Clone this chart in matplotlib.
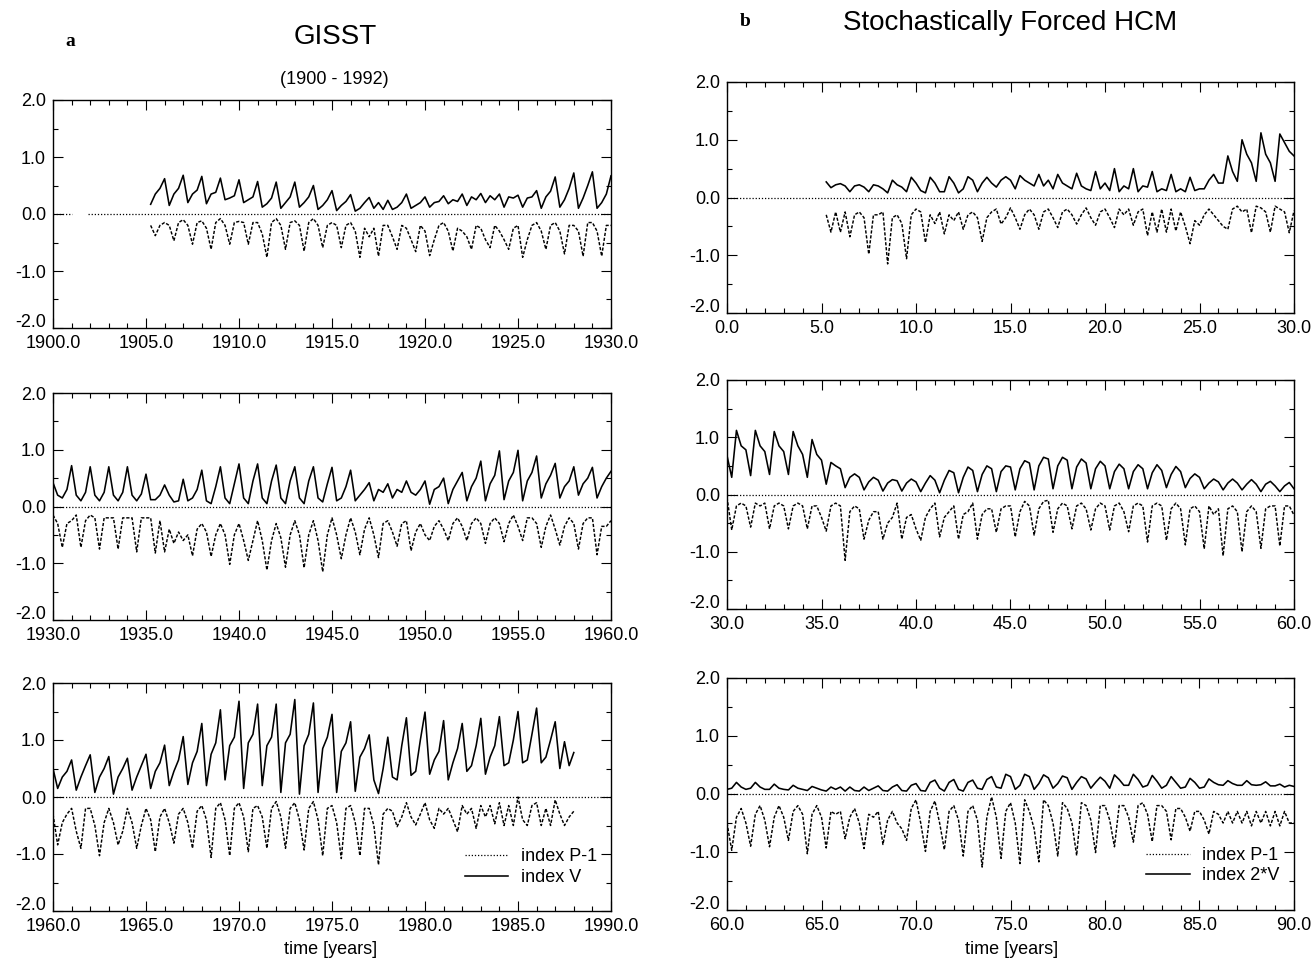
import numpy as np
import matplotlib
matplotlib.use("Agg")
import matplotlib.pyplot as plt
from matplotlib.ticker import MultipleLocator, FuncFormatter
from matplotlib.lines import Line2D

plt.rcParams['font.family'] = ['Liberation Sans', 'DejaVu Sans']
plt.rcParams['axes.unicode_minus'] = False

# ---------------- data (quarterly samples, step 0.25 yr) ----------------
step = 0.25

# GISST 1900-1930
gisst1_start = 1905.25
gisst1_v = [0.17, 0.35, 0.45,
            0.62, 0.15, 0.35, 0.45,
            0.68, 0.20, 0.35, 0.42,
            0.66, 0.18, 0.35, 0.38,
            0.63, 0.25, 0.28, 0.32,
            0.60, 0.20, 0.25, 0.30,
            0.57, 0.12, 0.18, 0.28,
            0.56, 0.10, 0.20, 0.30,
            0.56, 0.12, 0.20, 0.30,
            0.50, 0.08, 0.15, 0.25,
            0.41, 0.06, 0.15, 0.22,
            0.34, 0.05, 0.10, 0.20,
            0.29, 0.10, 0.20, 0.08,
            0.24, 0.08, 0.12, 0.20,
            0.35, 0.10, 0.15, 0.20,
            0.30, 0.12, 0.20, 0.22,
            0.32, 0.18, 0.25, 0.22,
            0.35, 0.15, 0.30, 0.25,
            0.36, 0.20, 0.32, 0.25,
            0.35, 0.12, 0.30, 0.28,
            0.33, 0.12, 0.28, 0.30,
            0.41, 0.10, 0.30, 0.40,
            0.65, 0.12, 0.25, 0.45,
            0.72, 0.10, 0.28, 0.50,
            0.74, 0.10, 0.20, 0.35,
            0.67]
gisst1_p = [-0.20, -0.38, -0.20,
            -0.15, -0.20, -0.47, -0.15,
            -0.10, -0.20, -0.53, -0.15,
            -0.12, -0.25, -0.62, -0.15,
            -0.08, -0.20, -0.53, -0.15,
            -0.13, -0.15, -0.53, -0.15,
            -0.15, -0.35, -0.76, -0.15,
            -0.08, -0.20, -0.62, -0.15,
            -0.12, -0.20, -0.65, -0.15,
            -0.08, -0.20, -0.59, -0.20,
            -0.15, -0.20, -0.59, -0.20,
            -0.15, -0.30, -0.76, -0.25,
            -0.40, -0.25, -0.74, -0.20,
            -0.20, -0.40, -0.62, -0.20,
            -0.25, -0.45, -0.66, -0.20,
            -0.30, -0.73, -0.45, -0.20,
            -0.15, -0.30, -0.65, -0.25,
            -0.30, -0.40, -0.62, -0.20,
            -0.25, -0.45, -0.59, -0.20,
            -0.30, -0.45, -0.62, -0.25,
            -0.20, -0.76, -0.45, -0.20,
            -0.15, -0.30, -0.62, -0.20,
            -0.15, -0.30, -0.70, -0.20,
            -0.20, -0.30, -0.74, -0.15,
            -0.15, -0.30, -0.74, -0.20,
            -0.20]

# GISST 1930-1960
gisst2_start = 1930.0
gisst2_v = [0.42, 0.20, 0.15, 0.30,
            0.72, 0.20, 0.10, 0.25,
            0.70, 0.20, 0.10, 0.25,
            0.70, 0.20, 0.10, 0.25,
            0.70, 0.20, 0.10, 0.22,
            0.57, 0.12, 0.12, 0.20,
            0.38, 0.20, 0.08, 0.10,
            0.48, 0.10, 0.15, 0.30,
            0.64, 0.10, 0.05, 0.35,
            0.70, 0.15, 0.05, 0.40,
            0.75, 0.15, 0.05, 0.45,
            0.75, 0.15, 0.05, 0.45,
            0.73, 0.15, 0.05, 0.45,
            0.70, 0.15, 0.05, 0.45,
            0.70, 0.15, 0.08, 0.40,
            0.69, 0.10, 0.15, 0.35,
            0.64, 0.10, 0.20, 0.30,
            0.42, 0.10, 0.30, 0.25,
            0.40, 0.15, 0.30, 0.25,
            0.45, 0.25, 0.20, 0.30,
            0.45, 0.04, 0.30, 0.35,
            0.50, 0.05, 0.30, 0.45,
            0.60, 0.10, 0.35, 0.50,
            0.80, 0.10, 0.40, 0.55,
            0.98, 0.12, 0.45, 0.60,
            0.99, 0.10, 0.45, 0.60,
            0.89, 0.15, 0.40, 0.55,
            0.76, 0.15, 0.35, 0.45,
            0.70, 0.20, 0.40, 0.50,
            0.69, 0.15, 0.35, 0.50,
            0.62]
gisst2_p = [-0.15, -0.30, -0.72, -0.30,
            -0.25, -0.15, -0.72, -0.25,
            -0.15, -0.20, -0.75, -0.20,
            -0.20, -0.20, -0.75, -0.20,
            -0.20, -0.20, -0.80, -0.20,
            -0.20, -0.20, -0.82, -0.25,
            -0.80, -0.40, -0.65, -0.45,
            -0.60, -0.50, -0.87, -0.40,
            -0.30, -0.45, -0.88, -0.50,
            -0.30, -0.50, -1.02, -0.50,
            -0.30, -0.60, -0.95, -0.60,
            -0.25, -0.60, -1.12, -0.60,
            -0.30, -0.55, -1.07, -0.50,
            -0.25, -0.50, -1.08, -0.50,
            -0.25, -0.60, -1.15, -0.50,
            -0.20, -0.50, -0.92, -0.50,
            -0.20, -0.45, -0.85, -0.40,
            -0.20, -0.50, -0.90, -0.30,
            -0.25, -0.45, -0.70, -0.30,
            -0.25, -0.78, -0.45, -0.30,
            -0.50, -0.60, -0.35, -0.25,
            -0.40, -0.60, -0.30, -0.20,
            -0.35, -0.60, -0.30, -0.20,
            -0.30, -0.65, -0.30, -0.20,
            -0.30, -0.62, -0.30, -0.15,
            -0.35, -0.60, -0.20, -0.20,
            -0.30, -0.72, -0.35, -0.15,
            -0.40, -0.68, -0.35, -0.20,
            -0.30, -0.75, -0.30, -0.20,
            -0.20, -0.85, -0.35, -0.35,
            -0.25]

# GISST 1960-1988
gisst3_start = 1960.0
gisst3_v = [0.50, 0.15, 0.35, 0.45,
            0.65, 0.12, 0.35, 0.55,
            0.74, 0.08, 0.35, 0.50,
            0.71, 0.05, 0.35, 0.50,
            0.68, 0.12, 0.35, 0.55,
            0.75, 0.15, 0.45, 0.60,
            0.91, 0.20, 0.45, 0.65,
            1.06, 0.22, 0.60, 0.80,
            1.29, 0.20, 0.75, 0.95,
            1.53, 0.30, 0.90, 1.05,
            1.68, 0.15, 0.95, 1.10,
            1.63, 0.20, 0.90, 1.05,
            1.63, 0.08, 0.95, 1.10,
            1.71, 0.05, 0.90, 1.10,
            1.65, 0.08, 0.85, 1.05,
            1.45, 0.08, 0.80, 0.95,
            1.32, 0.10, 0.70, 0.85,
            1.09, 0.30, 0.06, 0.50,
            1.05, 0.35, 0.30, 0.90,
            1.39, 0.38, 0.45, 1.00,
            1.49, 0.40, 0.65, 0.80,
            1.34, 0.30, 0.60, 0.85,
            1.29, 0.45, 0.55, 0.90,
            1.38, 0.40, 0.70, 0.90,
            1.41, 0.55, 0.60, 1.00,
            1.50, 0.60, 0.65, 1.10,
            1.56, 0.60, 0.70, 1.00,
            1.32, 0.50, 0.97, 0.55,
            0.78]
gisst3_p = [-0.30, -0.84, -0.45, -0.30,
            -0.20, -0.60, -0.90, -0.20,
            -0.20, -0.50, -1.03, -0.45,
            -0.20, -0.45, -0.84, -0.60,
            -0.20, -0.45, -0.90, -0.50,
            -0.20, -0.40, -0.96, -0.35,
            -0.20, -0.45, -0.81, -0.30,
            -0.20, -0.45, -0.90, -0.25,
            -0.15, -0.40, -1.06, -0.20,
            -0.10, -0.40, -1.03, -0.20,
            -0.10, -0.35, -0.96, -0.20,
            -0.15, -0.35, -0.90, -0.20,
            -0.08, -0.35, -0.90, -0.20,
            -0.10, -0.40, -0.93, -0.20,
            -0.08, -0.40, -1.03, -0.20,
            -0.15, -0.45, -1.08, -0.20,
            -0.15, -0.45, -1.03, -0.20,
            -0.20, -0.50, -1.19, -0.30,
            -0.20, -0.25, -0.52, -0.35,
            -0.10, -0.35, -0.49, -0.30,
            -0.10, -0.40, -0.55, -0.20,
            -0.30, -0.20, -0.40, -0.61,
            -0.15, -0.30, -0.20, -0.55,
            -0.15, -0.35, -0.15, -0.47,
            -0.10, -0.50, -0.15, -0.50,
            0.00, -0.40, -0.50, -0.15,
            -0.10, -0.50, -0.20, -0.50,
            -0.05, -0.30, -0.50, -0.35,
            -0.25]

# Stochastically forced HCM, years 0-30
hcm1_start = 5.25
hcm1_v = [0.27, 0.17, 0.22, 0.24,
          0.20, 0.10, 0.20, 0.22,
          0.18, 0.10, 0.22, 0.20,
          0.15, 0.08, 0.30, 0.22,
          0.18, 0.10, 0.35, 0.25,
          0.12, 0.08, 0.35, 0.25,
          0.10, 0.10, 0.36, 0.25,
          0.08, 0.15, 0.36, 0.30,
          0.10, 0.25, 0.35, 0.25,
          0.18, 0.30, 0.36, 0.30,
          0.15, 0.38, 0.30, 0.25,
          0.20, 0.40, 0.20, 0.30,
          0.15, 0.40, 0.25, 0.20,
          0.15, 0.42, 0.20, 0.15,
          0.12, 0.45, 0.15, 0.25,
          0.12, 0.50, 0.10, 0.20,
          0.15, 0.50, 0.10, 0.20,
          0.18, 0.45, 0.10, 0.15,
          0.12, 0.40, 0.10, 0.15,
          0.10, 0.35, 0.12, 0.15,
          0.15, 0.30, 0.40, 0.25,
          0.25, 0.72, 0.45, 0.28,
          1.00, 0.75, 0.60, 0.28,
          1.12, 0.75, 0.60, 0.28,
          1.10, 0.95, 0.80, 0.72]
hcm1_p = [-0.30, -0.60, -0.25, -0.60,
          -0.25, -0.68, -0.30, -0.25,
          -0.35, -0.98, -0.30, -0.30,
          -0.25, -1.15, -0.35, -0.30,
          -0.45, -1.06, -0.30, -0.20,
          -0.25, -0.78, -0.30, -0.45,
          -0.25, -0.63, -0.30, -0.40,
          -0.25, -0.55, -0.30, -0.25,
          -0.35, -0.76, -0.35, -0.25,
          -0.20, -0.46, -0.35, -0.18,
          -0.35, -0.55, -0.30, -0.20,
          -0.30, -0.55, -0.25, -0.20,
          -0.35, -0.52, -0.25, -0.20,
          -0.30, -0.46, -0.30, -0.18,
          -0.35, -0.48, -0.25, -0.20,
          -0.35, -0.52, -0.20, -0.30,
          -0.20, -0.48, -0.25, -0.20,
          -0.66, -0.25, -0.60, -0.20,
          -0.60, -0.20, -0.58, -0.25,
          -0.50, -0.80, -0.40, -0.48,
          -0.30, -0.20, -0.30, -0.40,
          -0.50, -0.55, -0.20, -0.15,
          -0.25, -0.20, -0.61, -0.15,
          -0.18, -0.25, -0.60, -0.15,
          -0.20, -0.25, -0.61, -0.23]

# HCM, years 30-60
hcm2_start = 30.0
hcm2_v = [0.68, 0.30, 1.12, 0.85,
          0.78, 0.33, 1.12, 0.85,
          0.75, 0.35, 1.10, 0.85,
          0.75, 0.35, 1.10, 0.85,
          0.70, 0.30, 0.96, 0.70,
          0.60, 0.18, 0.56, 0.50,
          0.45, 0.12, 0.30, 0.36,
          0.30, 0.08, 0.22, 0.30,
          0.25, 0.06, 0.20, 0.26,
          0.24, 0.06, 0.20, 0.27,
          0.22, 0.05, 0.20, 0.33,
          0.25, 0.03, 0.25, 0.42,
          0.38, 0.03, 0.30, 0.48,
          0.42, 0.05, 0.35, 0.50,
          0.45, 0.05, 0.40, 0.50,
          0.48, 0.08, 0.45, 0.59,
          0.55, 0.08, 0.50, 0.65,
          0.62, 0.10, 0.50, 0.65,
          0.60, 0.10, 0.48, 0.62,
          0.55, 0.10, 0.45, 0.58,
          0.50, 0.10, 0.40, 0.53,
          0.45, 0.10, 0.40, 0.52,
          0.45, 0.10, 0.38, 0.52,
          0.42, 0.12, 0.35, 0.49,
          0.40, 0.12, 0.28, 0.36,
          0.30, 0.10, 0.20, 0.27,
          0.22, 0.08, 0.20, 0.27,
          0.20, 0.08, 0.18, 0.26,
          0.18, 0.05, 0.18, 0.23,
          0.15, 0.05, 0.15, 0.21,
          0.10]
hcm2_p = [-0.05, -0.62, -0.20, -0.15,
          -0.20, -0.57, -0.15, -0.20,
          -0.15, -0.60, -0.20, -0.15,
          -0.20, -0.60, -0.20, -0.15,
          -0.20, -0.60, -0.20, -0.20,
          -0.40, -0.64, -0.20, -0.15,
          -0.20, -1.15, -0.30, -0.20,
          -0.25, -0.78, -0.45, -0.30,
          -0.30, -0.78, -0.50, -0.40,
          -0.15, -0.78, -0.40, -0.35,
          -0.60, -0.80, -0.40, -0.25,
          -0.15, -0.74, -0.40, -0.30,
          -0.20, -0.78, -0.35, -0.30,
          -0.15, -0.78, -0.35, -0.25,
          -0.25, -0.66, -0.25, -0.20,
          -0.20, -0.74, -0.30, -0.12,
          -0.20, -0.71, -0.25, -0.12,
          -0.10, -0.66, -0.25, -0.15,
          -0.20, -0.60, -0.20, -0.15,
          -0.25, -0.62, -0.25, -0.15,
          -0.20, -0.62, -0.20, -0.15,
          -0.30, -0.65, -0.20, -0.15,
          -0.20, -0.83, -0.20, -0.15,
          -0.20, -0.80, -0.25, -0.15,
          -0.25, -0.88, -0.25, -0.20,
          -0.30, -0.95, -0.20, -0.35,
          -0.25, -1.07, -0.25, -0.20,
          -0.30, -1.00, -0.30, -0.20,
          -0.30, -0.94, -0.25, -0.20,
          -0.20, -0.90, -0.20, -0.20,
          -0.36]

# HCM, years 60-90
hcm3_start = 60.0
hcm3_v = [0.08, 0.10, 0.20, 0.12,
          0.08, 0.10, 0.20, 0.12,
          0.08, 0.08, 0.17, 0.10,
          0.08, 0.07, 0.15, 0.10,
          0.08, 0.06, 0.13, 0.10,
          0.07, 0.05, 0.12, 0.08,
          0.12, 0.05, 0.12, 0.06,
          0.05, 0.12, 0.06, 0.10,
          0.14, 0.06, 0.05, 0.12,
          0.16, 0.06, 0.05, 0.15,
          0.18, 0.06, 0.05, 0.20,
          0.24, 0.10, 0.05, 0.20,
          0.25, 0.08, 0.05, 0.20,
          0.24, 0.10, 0.08, 0.25,
          0.30, 0.12, 0.10, 0.34,
          0.30, 0.08, 0.15, 0.34,
          0.30, 0.08, 0.18, 0.33,
          0.28, 0.10, 0.18, 0.31,
          0.28, 0.08, 0.20, 0.30,
          0.26, 0.10, 0.20, 0.29,
          0.22, 0.10, 0.33, 0.25,
          0.15, 0.15, 0.34, 0.25,
          0.12, 0.15, 0.32, 0.22,
          0.10, 0.15, 0.30, 0.20,
          0.10, 0.12, 0.27, 0.20,
          0.10, 0.12, 0.26, 0.20,
          0.16, 0.15, 0.23, 0.18,
          0.15, 0.15, 0.23, 0.16,
          0.15, 0.16, 0.21, 0.14,
          0.14, 0.17, 0.12, 0.15,
          0.13]
hcm3_p = [-0.50, -0.97, -0.40, -0.25,
          -0.50, -0.90, -0.35, -0.20,
          -0.45, -0.91, -0.40, -0.20,
          -0.40, -0.80, -0.30, -0.20,
          -0.35, -1.03, -0.35, -0.20,
          -0.40, -0.93, -0.30, -0.35,
          -0.30, -0.77, -0.40, -0.25,
          -0.50, -0.94, -0.35, -0.40,
          -0.30, -0.87, -0.45, -0.30,
          -0.50, -0.60, -0.80, -0.25,
          -0.10, -0.50, -0.99, -0.30,
          -0.12, -0.50, -0.96, -0.30,
          -0.20, -0.45, -1.07, -0.30,
          -0.20, -0.45, -1.26, -0.40,
          -0.05, -0.40, -1.11, -0.30,
          -0.15, -0.50, -1.20, -0.10,
          -0.30, -0.60, -1.17, -0.10,
          -0.20, -0.50, -1.07, -0.15,
          -0.25, -0.50, -1.06, -0.15,
          -0.20, -0.45, -1.01, -0.20,
          -0.20, -0.45, -0.91, -0.20,
          -0.20, -0.40, -0.83, -0.20,
          -0.15, -0.35, -0.82, -0.20,
          -0.20, -0.30, -0.79, -0.25,
          -0.25, -0.40, -0.64, -0.30,
          -0.30, -0.45, -0.69, -0.30,
          -0.35, -0.50, -0.30, -0.50,
          -0.30, -0.50, -0.30, -0.55,
          -0.30, -0.50, -0.30, -0.55,
          -0.30, -0.55, -0.30, -0.50,
          -0.50]

# ---------------- figure ----------------
W, H = 1316, 960
fig = plt.figure(figsize=(W / 100, H / 100), dpi=100)


def add_ax(l, t, r, b):
    return fig.add_axes([l / W, 1 - b / H, (r - l) / W, (b - t) / H])


def ylabel_fmt(v, p):
    if abs(v + 2.0) < 1e-9:
        return ''          # drawn separately, slightly raised like in the original
    return f"{(0.0 if abs(v) < 1e-9 else v):.1f}"


xfmt = FuncFormatter(lambda v, p: f"{v:.1f}")
yfmt = FuncFormatter(ylabel_fmt)


def style(ax, x0, x1):
    ax.set_xlim(x0, x1)
    ax.set_ylim(-2, 2)
    ax.xaxis.set_major_locator(MultipleLocator(5))
    ax.xaxis.set_minor_locator(MultipleLocator(1))
    ax.yaxis.set_major_locator(MultipleLocator(1))
    ax.yaxis.set_minor_locator(MultipleLocator(0.5))
    ax.xaxis.set_major_formatter(xfmt)
    ax.yaxis.set_major_formatter(yfmt)
    ax.tick_params(which='both', direction='in', top=True, right=True,
                   labelsize=13, width=0.8, colors='black')
    ax.tick_params(which='major', length=7)
    ax.tick_params(which='minor', length=3.5)
    ax.tick_params(axis='x', pad=5)
    ax.tick_params(axis='y', pad=5)
    for s in ax.spines.values():
        s.set_linewidth(1.0)
    ax.annotate('-2.0', xy=(0, 0), xycoords='axes fraction',
                xytext=(-5, 4), textcoords='offset points',
                ha='right', va='center', fontsize=13)


def series_x(start, vals):
    return start + step * np.arange(len(vals))


solid_kw = dict(color='black', lw=1.15)
dash_kw = dict(color='black', lw=1.05, linestyle=(0, (2.2, 1.2)))
zero_kw = dict(color='black', lw=0.9, linestyle=(0, (1, 1.5)))

panels = [
    # box (l,t,r,b), xlim, start, v, p, zero segments
    ((53, 100, 611, 328), (1900, 1930), gisst1_start, gisst1_v, gisst1_p,
     [(1900, 1901.0), (1901.9, 1930)]),
    ((53, 393, 611, 620), (1930, 1960), gisst2_start, gisst2_v, gisst2_p,
     [(1930, 1960)]),
    ((53, 683, 611, 911), (1960, 1990), gisst3_start, gisst3_v, gisst3_p,
     [(1960, 1990)]),
    ((727, 82, 1294, 313), (0, 30), hcm1_start, hcm1_v, hcm1_p, [(0, 30)]),
    ((727, 380, 1294, 609), (30, 60), hcm2_start, hcm2_v, hcm2_p, [(30, 60)]),
    ((727, 678, 1294, 910), (60, 90), hcm3_start, hcm3_v, hcm3_p, [(60, 90)]),
]

axes = []
for box, xl, start, v, p, zsegs in panels:
    ax = add_ax(*box)
    style(ax, *xl)
    for a, b in zsegs:
        ax.plot([a, b], [0, 0], **zero_kw)
    ax.plot(series_x(start, v), v, **solid_kw)
    ax.plot(series_x(start, p), p, **dash_kw)
    axes.append(ax)

# legends
for ax, lab in [(axes[2], 'index V'), (axes[5], 'index 2*V')]:
    handles = [Line2D([], [], **zero_kw), Line2D([], [], **solid_kw)]
    ax.legend(handles, ['index P-1', lab], loc='lower right',
              bbox_to_anchor=(0.975, 0.11), frameon=False, fontsize=13,
              handlelength=2.4, handletextpad=0.7, labelspacing=0.2,
              borderaxespad=0.0, borderpad=0.0)

# titles and labels
fig.text(70 / W, 1 - 42 / H, 'a', family=['Liberation Serif', 'DejaVu Serif'],
         weight='bold', fontsize=14, ha='center', va='center')
fig.text(335 / W, 1 - 37 / H, 'GISST', fontsize=20, ha='center', va='center')
fig.text(334 / W, 1 - 80 / H, '(1900 - 1992)', fontsize=13, ha='center', va='center')
fig.text(745 / W, 1 - 22 / H, 'b', family=['Liberation Serif', 'DejaVu Serif'],
         weight='bold', fontsize=14, ha='center', va='center')
fig.text(1010 / W, 1 - 23 / H, 'Stochastically Forced HCM', fontsize=20,
         ha='center', va='center')
fig.text(331 / W, 1 - 950 / H, 'time [years]', fontsize=13, ha='center', va='center')
fig.text(1012 / W, 1 - 950 / H, 'time [years]', fontsize=13, ha='center', va='center')

fig.savefig('out.png', dpi=100)
